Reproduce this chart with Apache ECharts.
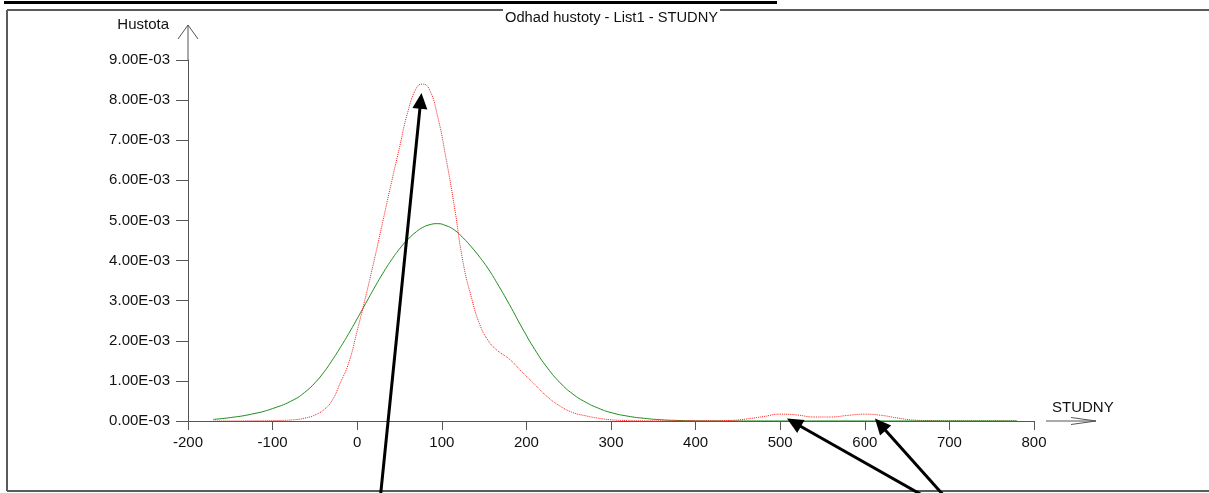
<!DOCTYPE html>
<html>
<head>
<meta charset="utf-8">
<script src="https://cdn.jsdelivr.net/npm/echarts@6/dist/echarts.min.js"></script>
<style>
html,body{margin:0;padding:0;background:#fff;}
#chart{width:1209px;height:493px;}
</style>
</head>
<body>
<div id="chart"></div>
<script>
// Data (density values in units of 1E-03)
const xs = [-170,-150,-125,-100,-75,-60,-50,-40,-30,-20,-10,0,10,20,30,40,50,60,70,77,85,95,105,115,125,135,145,155,165,180,195,210,225,240,255,270,285,300,320,340,360,380,400,420,440,460,480,500,520,540,560,580,600,620,640,660,680,700,740,780];
const redDensity = [0,0,0.004,0.01,0.03,0.08,0.15,0.27,0.5,0.95,1.45,2.25,3.1,4.0,4.95,5.9,6.82,7.72,8.3,8.4,8.28,7.6,6.55,5.33,3.97,3.08,2.4,2.0,1.77,1.54,1.22,0.91,0.6,0.37,0.21,0.13,0.07,0.03,0.01,0.005,0.003,0.003,0.003,0.004,0.012,0.05,0.11,0.17,0.15,0.1,0.1,0.14,0.17,0.14,0.07,0.02,0.01,0.005,0.003,0.002];
const greenDensity = [0.04,0.085,0.17,0.31,0.53,0.75,0.95,1.2,1.5,1.83,2.18,2.55,2.93,3.31,3.67,4.0,4.29,4.53,4.72,4.82,4.89,4.92,4.87,4.76,4.57,4.34,4.08,3.79,3.45,2.9,2.32,1.78,1.32,0.95,0.67,0.47,0.32,0.21,0.12,0.065,0.03,0.013,0.005,0.002,0.001,0.001,0.001,0.001,0.001,0.001,0.001,0.001,0.001,0.001,0.001,0.001,0.001,0.001,0.001,0.001];
const xTicks = [-200,-100,0,100,200,300,400,500,600,700,800];
const yTicks = [0,1,2,3,4,5,6,7,8,9];
const titleText = 'Odhad hustoty - List1 - STUDNY';
const yName = 'Hustota';
const xName = 'STUDNY';
// annotation arrows (data coordinates: [x, density E-03])
const arrowTips = [[76, 8.18],[508, 0.06],[612, 0.06]];
const arrowTails = [[27.6, -1.85],[668, -1.85],[693, -1.85]];

const FONT = '"Liberation Sans", Arial, sans-serif';
const AXIS = '#555555';
const TXT = '#111111';

const chart = echarts.init(document.getElementById('chart'), null, {renderer:'canvas'});

const option = {
  animation: false,
  backgroundColor: '#ffffff',
  textStyle: {fontFamily: FONT},
  title: {
    text: titleText,
    left: 503, top: 9,
    padding: [1, 2],
    backgroundColor: '#ffffff',
    z: 10,
    textStyle: {fontSize: 14.7, fontWeight: 'normal', color: TXT, fontFamily: FONT}
  },
  grid: {left: 188, right: 175, top: 60, bottom: 72, containLabel: false},
  xAxis: {
    type: 'value',
    min: xTicks[0], max: xTicks[xTicks.length-1], interval: 100,
    axisLine: {show: true, onZero: false, lineStyle: {color: AXIS, width: 1}},
    axisTick: {show: true, length: 9, lineStyle: {color: AXIS}},
    axisLabel: {margin: 14, fontSize: 15, color: TXT, fontFamily: FONT},
    splitLine: {show: false}
  },
  yAxis: {
    type: 'value',
    min: yTicks[0], max: yTicks[yTicks.length-1], interval: 1,
    axisLine: {show: true, onZero: false, lineStyle: {color: AXIS, width: 1}},
    axisTick: {show: true, length: 12, lineStyle: {color: AXIS}},
    axisLabel: {margin: 18, fontSize: 15, color: TXT, fontFamily: FONT,
      formatter: v => v.toFixed(2) + 'E-03'},
    splitLine: {show: false}
  },
  series: [
    {
      type: 'line', name: 'green', showSymbol: false, smooth: 0.5,
      data: xs.map((x, i) => [x, greenDensity[i]]),
      lineStyle: {color: '#1e8c1e', width: 1},
      z: 3
    },
    {
      type: 'line', name: 'red', showSymbol: false, smooth: 0.5,
      data: xs.map((x, i) => [x, redDensity[i]]),
      lineStyle: {color: '#ff1a1a', width: 1, type: [1, 1]},
      z: 4
    }
  ]
};
chart.setOption(option);

function buildGraphics() {
  const g = [];
  // frame
  g.push({type:'line', z:1, shape:{x1:4, y1:2.5, x2:777, y2:2.5}, style:{stroke:'#000', lineWidth:3}});
  g.push({type:'line', z:1, shape:{x1:7, y1:10, x2:1209, y2:10}, style:{stroke:'#5a5a5a', lineWidth:2}});
  g.push({type:'line', z:1, shape:{x1:7, y1:10, x2:7, y2:491}, style:{stroke:'#5a5a5a', lineWidth:2}});
  g.push({type:'line', z:1, shape:{x1:7, y1:491, x2:1209, y2:491}, style:{stroke:'#5a5a5a', lineWidth:2}});
  // y-axis extension & open arrow
  const yTop = chart.convertToPixel({gridIndex:0}, [xTicks[0], yTicks[yTicks.length-1]]);
  const ax = yTop[0];
  g.push({type:'line', z:5, shape:{x1:ax, y1:yTop[1], x2:ax, y2:25}, style:{stroke:AXIS, lineWidth:1}});
  g.push({type:'polyline', z:5, shape:{points:[[ax-10,39],[ax,25],[ax+10,39]]}, style:{stroke:AXIS, lineWidth:1, fill:null}});
  g.push({type:'text', z:5, style:{text:yName, x:169, y:25, align:'right', verticalAlign:'middle', font:'15px ' + FONT, fill:TXT}});
  // x-axis detached arrow
  const xEnd = chart.convertToPixel({gridIndex:0}, [xTicks[xTicks.length-1], 0]);
  const ay = xEnd[1];
  g.push({type:'line', z:5, shape:{x1:xEnd[0]+12, y1:ay, x2:xEnd[0]+62, y2:ay}, style:{stroke:AXIS, lineWidth:1}});
  g.push({type:'polyline', z:5, shape:{points:[[xEnd[0]+37,ay-3.5],[xEnd[0]+62,ay],[xEnd[0]+37,ay+3.5]]}, style:{stroke:AXIS, lineWidth:1, fill:null}});
  g.push({type:'text', z:5, style:{text:xName, x:xEnd[0]+18, y:ay-13, align:'left', verticalAlign:'middle', font:'15px ' + FONT, fill:TXT}});
  // annotation arrows
  for (let i = 0; i < arrowTips.length; i++) {
    const tip = chart.convertToPixel({gridIndex:0}, arrowTips[i]);
    const tail = chart.convertToPixel({gridIndex:0}, arrowTails[i]);
    const dx = tip[0]-tail[0], dy = tip[1]-tail[1];
    const L = Math.sqrt(dx*dx+dy*dy);
    const ux = dx/L, uy = dy/L;
    const hl = 16, hw = 7.5;
    const bx = tip[0]-ux*hl, by = tip[1]-uy*hl;
    g.push({type:'line', z:20, shape:{x1:tail[0], y1:tail[1], x2:bx+ux*2, y2:by+uy*2}, style:{stroke:'#000', lineWidth:3}});
    g.push({type:'polygon', z:20, shape:{points:[[tip[0],tip[1]],[bx-uy*hw, by+ux*hw],[bx+uy*hw, by-ux*hw]]}, style:{fill:'#000'}});
  }
  return g;
}
chart.setOption({graphic: buildGraphics()});
</script>
</body>
</html>
